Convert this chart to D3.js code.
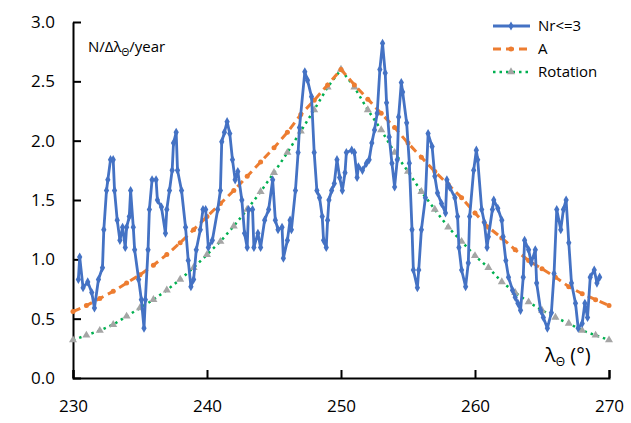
<!DOCTYPE html>
<html><head><meta charset="utf-8">
<script src="https://cdn.jsdelivr.net/npm/d3@7"></script>
<style>body{margin:0;background:#fff}svg{font-family:"Open Sans","Liberation Sans",sans-serif}</style>
</head><body><svg id="c" width="631" height="423"></svg>
<script>
// Nr<=3 (traced)
var blueX=[230.4,230.5,230.75,231.1,231.4,231.6,231.9,232.2,232.3,232.5,232.6,232.8,233,233.1,233.3,233.5,233.7,233.9,234,234.2,234.3,234.5,234.6,234.9,235.1,235.3,235.4,235.6,235.7,235.9,236.2,236.3,236.6,236.9,237,237.2,237.4,237.5,237.7,237.8,238.1,238.4,238.6,238.8,239,239.2,239.5,239.7,239.9,240.1,240.4,240.8,241,241.1,241.3,241.5,241.7,241.9,242.1,242.3,242.6,242.8,243,243.1,243.4,243.5,243.8,244,244.3,244.6,244.9,245.1,245.3,245.6,245.7,246,246.2,246.3,246.6,246.8,246.9,247.3,247.5,247.8,248,248.2,248.4,248.6,248.7,248.9,249,249.1,249.3,249.5,249.7,249.9,250.1,250.3,250.4,250.8,251,251.2,251.3,251.6,251.9,252.1,252.3,252.5,252.7,252.9,253.1,253.3,253.4,253.6,253.8,254,254.2,254.3,254.5,254.6,254.9,255.1,255.3,255.4,255.7,255.8,256,256.3,256.5,256.8,257,257.2,257.5,257.8,257.9,258.1,258.5,258.7,258.8,259,259.3,259.5,259.6,259.9,260.1,260.2,260.5,260.7,260.9,261,261.3,261.4,261.7,262,262.1,262.3,262.5,262.8,263,263.2,263.4,263.6,263.7,264,264.2,264.5,264.6,264.9,265.1,265.4,265.7,265.9,266.1,266.4,266.6,266.8,267,267.2,267.5,267.7,268,268.2,268.4,268.6,268.9,269.1,269.3];
var blueY=[0.83,1.02,0.76,0.81,0.72,0.59,0.83,0.93,1.25,1.58,1.67,1.84,1.84,1.58,1.33,1.16,1.27,1.1,1.27,1.36,1.58,1.27,1.08,0.83,0.66,0.42,0.66,1.08,1.42,1.67,1.67,1.5,1.44,1.22,1.42,1.58,1.75,1.98,2.07,1.75,1.58,1.27,0.99,0.77,0.83,1.08,1.25,1.42,1.42,1.1,1.16,1.42,1.58,1.99,2.07,2.16,2.06,1.84,1.67,1.74,1.5,1.22,1.1,1.42,1.42,1.1,1.22,1.1,1.33,1.42,1.67,1.33,1.25,1.27,1.01,1.16,1.33,1.25,1.58,1.9,2.11,2.58,2.51,2.37,1.9,1.58,1.52,1.36,1.16,1.1,1.33,1.5,1.58,1.64,1.84,1.69,1.58,1.73,1.9,1.92,1.9,1.69,1.78,1.75,1.81,1.84,1.98,2.09,2.23,2.6,2.82,2.57,2.32,2.03,1.81,1.61,1.84,2.2,2.49,2.41,2.15,1.81,1.25,0.91,0.76,0.91,1.25,1.52,2.06,1.95,1.7,1.56,1.47,1.39,1.67,1.61,1.52,1.36,1.1,0.91,0.77,0.97,1.36,1.75,1.92,1.84,1.42,1.31,1.1,1.19,1.42,1.5,1.43,1.33,1.19,0.99,0.85,0.74,0.68,0.63,0.57,0.85,1.16,1.08,0.97,1.08,0.8,0.57,0.51,0.42,0.55,0.88,1.42,1.25,1.42,1.5,1.14,0.8,0.63,0.42,0.46,0.63,0.51,0.85,0.91,0.8,0.85];
// A and Rotation, one value per degree 230..270
var degX=d3.range(230,271);
var aY=[0.56,0.61,0.67,0.73,0.80,0.87,0.95,1.04,1.14,1.25,1.36,1.47,1.58,1.70,1.82,1.94,2.07,2.22,2.34,2.47,2.60,2.47,2.35,2.23,2.11,1.98,1.86,1.74,1.63,1.52,1.39,1.27,1.18,1.08,0.99,0.92,0.85,0.77,0.71,0.66,0.61];
var rotY=[0.32,0.36,0.40,0.45,0.52,0.59,0.66,0.74,0.83,0.93,1.04,1.15,1.28,1.42,1.57,1.73,1.90,2.08,2.26,2.45,2.60,2.45,2.26,2.09,1.90,1.74,1.57,1.42,1.27,1.15,1.03,0.93,0.81,0.72,0.64,0.57,0.51,0.46,0.40,0.36,0.32];
var xTicks=[230,240,250,260,270];
var yTicks=[0,0.5,1,1.5,2,2.5,3];

var svg=d3.select("#c");
var x=d3.scaleLinear().domain([230,270]).range([73,609]);
var y=d3.scaleLinear().domain([0,3]).range([378,22]);
var BLUE="#4472C4",ORANGE="#ED7D31",GREEN="#00B050",GRAY="#A5A5A5";

var ax=svg.append("g").attr("transform","translate(0,378)")
  .call(d3.axisBottom(x).tickValues(xTicks).tickSizeInner(-8).tickSizeOuter(-8).tickPadding(22));
var ay=svg.append("g").attr("transform","translate(73,0)")
  .call(d3.axisLeft(y).tickValues(yTicks).tickFormat(d3.format(".1f")).tickSizeInner(-8).tickSizeOuter(0).tickPadding(18));
svg.selectAll(".domain").attr("stroke","#000").attr("stroke-width",2);
svg.selectAll(".tick line").attr("stroke","#000").attr("stroke-width",2);
svg.selectAll(".tick text").attr("font-size",17).attr("fill","#000").attr("font-family","'Open Sans',sans-serif");

var line=d3.line().x(function(d){return x(d[0]);}).y(function(d){return y(d[1]);});
var blue=d3.zip(blueX,blueY), aD=d3.zip(degX,aY), rD=d3.zip(degX,rotY);

svg.append("path").datum(rD).attr("d",line).attr("fill","none").attr("stroke",GREEN).attr("stroke-width",2.5).attr("stroke-dasharray","2.5,4");
svg.selectAll(".tri").data(rD).enter().append("path").attr("d",d3.symbol(d3.symbolTriangle,28))
  .attr("transform",function(d){return "translate("+x(d[0])+","+y(d[1])+")";}).attr("fill",GRAY);
svg.append("path").datum(aD).attr("d",line).attr("fill","none").attr("stroke",ORANGE).attr("stroke-width",3).attr("stroke-dasharray","8,5");
svg.selectAll(".dot").data(aD).enter().append("circle").attr("r",2.5)
  .attr("cx",function(d){return x(d[0]);}).attr("cy",function(d){return y(d[1]);}).attr("fill",ORANGE);
svg.append("path").datum(blue).attr("d",line).attr("fill","none").attr("stroke",BLUE).attr("stroke-width",2.8).attr("stroke-linejoin","round");
svg.selectAll(".dia").data(blue).enter().append("path").attr("d",d3.symbol(d3.symbolDiamond,24))
  .attr("transform",function(d){return "translate("+x(d[0])+","+y(d[1])+")";}).attr("fill",BLUE);

// legend
var leg=[["Nr<=3",BLUE,null,"dia"],["A",ORANGE,"8,5","dot"],["Rotation",GREEN,"2.5,4","tri"]];
leg.forEach(function(l,i){
  var ly=26+i*23;
  svg.append("line").attr("x1",493).attr("x2",530).attr("y1",ly).attr("y2",ly)
    .attr("stroke",l[1]).attr("stroke-width",l[3]=="tri"?2.5:3).attr("stroke-dasharray",l[2]);
  var s=l[3]=="dia"?d3.symbol(d3.symbolDiamond,24):l[3]=="tri"?d3.symbol(d3.symbolTriangle,28):d3.symbol(d3.symbolCircle,20);
  svg.append("path").attr("d",s).attr("transform","translate(511,"+ly+")").attr("fill",l[3]=="tri"?GRAY:l[1]);
  svg.append("text").attr("x",538).attr("y",ly+5).attr("font-size",15).text(l[0]);
});

var t=svg.append("text").attr("x",88).attr("y",52).attr("font-size",15).attr("fill","#000");
t.append("tspan").text("N/Δλ");
t.append("tspan").attr("font-size",10).attr("dy",4).text("Θ");
t.append("tspan").attr("dy",-4).text("/year");
var t2=svg.append("text").attr("x",545).attr("y",362).attr("font-size",20).attr("fill","#000");
t2.append("tspan").text("λ");
t2.append("tspan").attr("font-size",12).attr("dy",4).text("Θ");
t2.append("tspan").attr("dy",-4).text(" (°)");
</script></body></html>
